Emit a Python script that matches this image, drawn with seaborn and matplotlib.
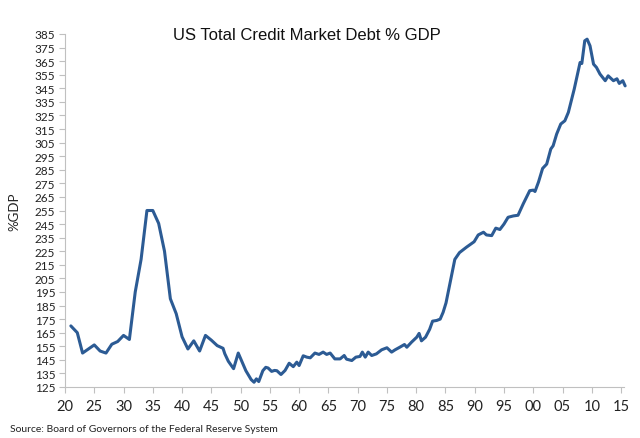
import matplotlib
matplotlib.use("Agg")
import matplotlib.pyplot as plt
import seaborn as sns
import pandas as pd

# ---- data ----
years_pre = [1921.0, 1922.1, 1923.0, 1924.0, 1925.0, 1926.0, 1927.0, 1928.0, 1929.0, 1930.0,
             1931.0, 1932.0, 1933.0, 1934.0, 1935.0, 1936.0, 1937.0, 1938.0, 1939.0, 1940.0,
             1941.0, 1942.0, 1943.0, 1944.0, 1945.0, 1946.0, 1947.0]
debt_pre = [170, 165, 150, 153, 156, 151.5, 150, 156.5, 158.5, 163,
            160, 195, 219, 255, 255, 245.5, 225, 190, 179, 162,
            153, 159, 151.5, 163, 159.5, 155.5, 153.5]

years_mid = [1947.3, 1947.9, 1948.8, 1949.6, 1950.2, 1950.9, 1951.8, 1952.3, 1952.7, 1953.1,
             1953.8, 1954.3, 1954.7, 1955.3, 1955.8, 1956.2, 1956.9, 1957.6, 1958.3, 1959.0,
             1959.6, 1960.0, 1960.7, 1961.3, 1961.9, 1962.7, 1963.4, 1964.1, 1964.7, 1965.3,
             1966.1, 1967.0, 1967.7, 1968.1, 1969.0, 1969.7, 1970.4, 1970.8, 1971.3, 1971.8,
             1972.4, 1973.2, 1974.1, 1975.0, 1975.8, 1976.4, 1977.2, 1978.0, 1978.4, 1979.2,
             1980.1, 1980.5, 1980.9, 1981.6]
debt_mid = [149.5, 144, 138.5, 150, 144, 137, 130.5, 128.5, 131, 129,
            137, 139.5, 139, 136.5, 137.2, 137, 134.2, 137.2, 142.5, 140,
            143.3, 140.8, 148, 147, 146.5, 150, 149, 150.7, 149, 150,
            145.7, 145.7, 148.2, 145.5, 144.5, 147, 147.5, 150.7, 147, 150.7,
            148.2, 149.4, 152.4, 153.9, 150.7, 152.4, 154.3, 156.3, 154.3, 158,
            161.7, 164.5, 159, 161.7]

years_late = [1982.3, 1982.8, 1983.5, 1984.1, 1984.6, 1985.1, 1985.8, 1986.6, 1987.4, 1988.0,
              1988.6, 1989.4, 1989.9, 1990.6, 1991.5, 1992.0, 1992.9, 1993.6, 1994.3, 1995.0,
              1995.7, 1996.6, 1997.4, 1998.3, 1999.4, 2000.0, 2000.3, 2000.9, 2001.6, 2002.3,
              2003.0, 2003.4, 2004.0, 2004.7, 2005.4, 2006.0, 2007.0, 2008.0, 2008.3, 2008.8,
              2009.2, 2009.7, 2010.3, 2010.8, 2011.4, 2012.3, 2012.8, 2013.7, 2014.3, 2014.7,
              2015.3, 2015.7]
debt_late = [167.5, 173.5, 174, 175, 180, 187, 202, 219, 224, 226,
             228, 230.5, 232, 237, 239, 237, 236.5, 242, 241, 245,
             250, 251, 251.5, 260, 269.6, 270, 269, 276, 286, 289.2,
             300.3, 302.7, 311.3, 318.7, 321.1, 327.3, 344.4, 364, 363.3, 380,
             381.2, 376.3, 362.8, 360.4, 355.5, 350.6, 354.2, 350.6, 352, 348.6,
             350.6, 346.8]

yticks = list(range(125, 386, 10))
xticks = list(range(1920, 2016, 5))
xticklabels = [f"{y % 100:02d}" for y in xticks]

df = pd.DataFrame({"year": years_pre + years_mid + years_late,
                   "debt": debt_pre + debt_mid + debt_late})

# ---- style ----
sns.set_theme(style="white")
plt.rcParams["font.family"] = ["Lato", "DejaVu Sans"]

fig = plt.figure(figsize=(6.4, 4.39), dpi=100)
ax = fig.add_axes([65 / 640, 1 - 388 / 439, (623.5 - 65) / 640, (388 - 35) / 439])

line_color = "#2C5B94"
sns.lineplot(data=df, x="year", y="debt", ax=ax, color=line_color,
             linewidth=2.2, sort=False, estimator=None)
for l in ax.get_lines():
    l.set_clip_on(False)

ax.set_xlim(1920, 2015.42)
ax.set_ylim(125, 385)
ax.set_yticks(yticks)
ax.set_yticklabels([str(t) for t in yticks])
ax.set_xticks(xticks)
ax.set_xticklabels(xticklabels)

spine_col = "#C0C0C0"
for side in ["top", "right"]:
    ax.spines[side].set_visible(False)
for side in ["left", "bottom"]:
    ax.spines[side].set_color(spine_col)
    ax.spines[side].set_linewidth(0.8)

ax.tick_params(axis="y", direction="out", length=4, width=0.8, color=spine_col,
               labelsize=8.5, labelcolor="#222222", pad=3, left=True)
ax.tick_params(axis="x", direction="out", length=4, width=0.8, color=spine_col,
               labelsize=10.5, labelcolor="#222222", pad=5, bottom=True)

ax.set_xlabel("")
ax.set_ylabel("%GDP", fontsize=9.5, color="#222222", labelpad=10)
ax.grid(False)

fig.text(307 / 640, 1 - 35 / 439, "US Total Credit Market Debt % GDP",
         ha="center", va="center", fontsize=12, color="#111111",
         family=["Liberation Sans", "DejaVu Sans"])

fig.text(10 / 640, 1 - 430 / 439, "Source: Board of Governors of the Federal Reserve System",
         ha="left", va="center", fontsize=7.5, color="#222222")

# cropped fragment of a larger heading above the chart (only its descender shows)
fig.text(521 / 640, 1 + 8 / 439, "g", ha="center", va="baseline",
         fontsize=26, fontweight="bold", color="black",
         family=["Liberation Sans", "DejaVu Sans"])

fig.savefig("out.png", dpi=100)
